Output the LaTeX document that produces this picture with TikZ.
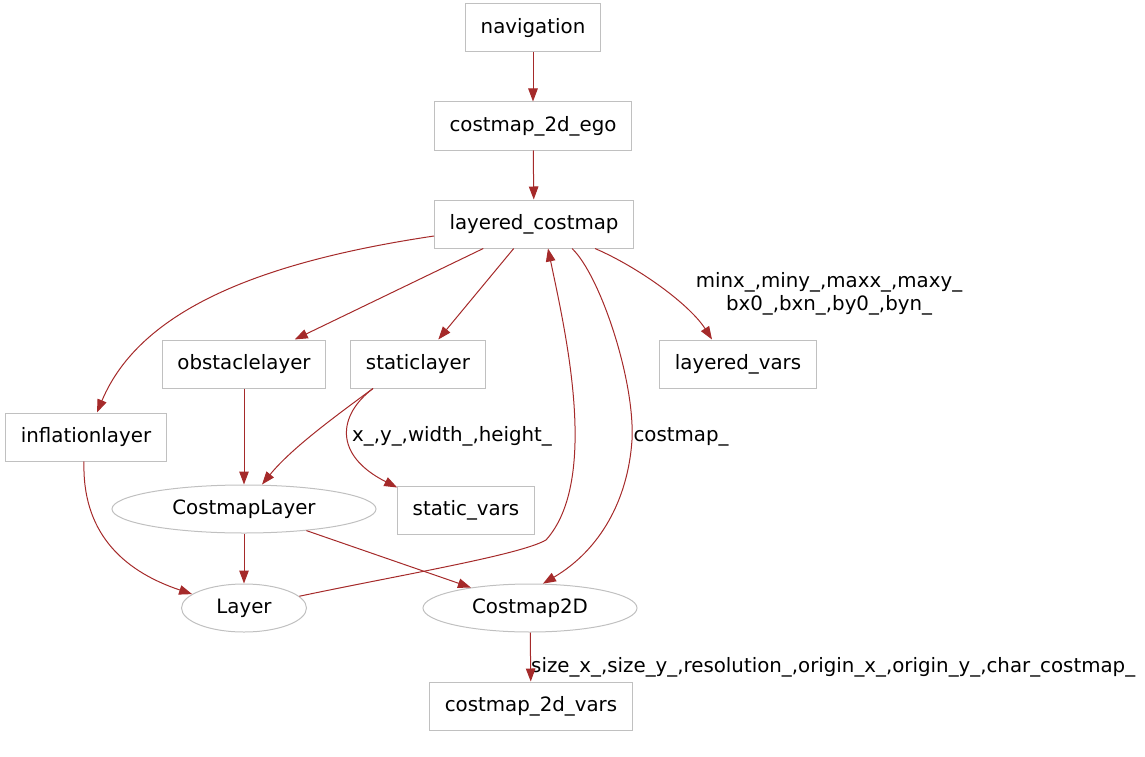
\documentclass[tikz,border=0pt]{standalone}
\usepackage{fontspec}
\setmainfont{DejaVu Sans}
\usetikzlibrary{arrows.meta,shapes.geometric}

\definecolor{linkred}{HTML}{A52A2A}
\definecolor{boxgray}{HTML}{C0C0C0}

\begin{document}
\begin{tikzpicture}[
    x=1pt, y=-1pt,
    >={Triangle[length=13pt,width=9.5pt]},
    font=\fontsize{19.8}{23.5}\selectfont,
    box/.style={rectangle,draw=boxgray,line width=1pt,minimum height=48pt,inner xsep=15pt,inner ysep=0pt},
    blob/.style={ellipse,draw=boxgray,line width=1pt,minimum height=48pt,inner sep=0pt},
    lbl/.style={inner sep=0pt,align=center},
    link/.style={draw=linkred,->,line width=1pt}
]
\useasboundingbox (0,0) rectangle (1145,757);

\node[box] (nav) at (533,28) {navigation};
\node[box] (ego) at (533,126) {costmap\_2d\_ego};
\node[box] (lc)  at (534,224) {layered\_costmap};
\node[box] (obs) at (244,364) {obstaclelayer};
\node[box] (stl) at (418,364) {staticlayer};
\node[box] (lv)  at (738,364) {layered\_vars};
\node[box] (inf) at (86,437) {inflationlayer};
\node[blob, minimum width=264pt] (cl) at (244,509) {CostmapLayer};
\node[box] (sv)  at (466,510) {static\_vars};
\node[blob, minimum width=125pt] (ly) at (244,608) {Layer};
\node[blob, minimum width=214pt] (cm) at (530,608) {Costmap2D};
\node[box] (cv)  at (531,706) {costmap\_2d\_vars};

% edge labels
\node[lbl] (lvlbl) at (829,294) {minx\_,miny\_,maxx\_,maxy\_\\bx0\_,bxn\_,by0\_,byn\_};
\node[lbl] (cmlbl) at (681,437) {costmap\_};
\node[lbl] (svlbl) at (452,436) {x\_,y\_,width\_,height\_};
\node[lbl, anchor=west] (cvlbl) at (531,667) {size\_x\_,size\_y\_,resolution\_,origin\_x\_,origin\_y\_,char\_costmap\_};

\draw[link] ([yshift=-12pt]lc.west) .. controls (260,262) and (140,310) .. ([xshift=11pt]inf.north);
\draw[link] (nav) -- (ego);
\draw[link] (ego) -- (lc);
\draw[link] (lc) -- (obs);
\draw[link] (lc) -- (stl);
\draw[link] ([xshift=61pt]lc.south) .. controls (640,268) and (690,305) .. ([xshift=-26pt]lv.north);
\draw[link] ([xshift=38pt]lc.south) .. controls (600,275) and (635,380) .. (632,440)
    .. controls (628,500) and (600,550) .. (cm.62);
\draw[link] (ly.12) .. controls (400,575) and (520,555) .. (546,540)
    .. controls (600,480) and (565,330) .. ([xshift=14pt]lc.south);
\draw[link] (obs) -- (cl);
\draw[link] ([xshift=-45pt]stl.south) .. controls (330,420) and (290,450) .. ([xshift=18pt]cl.north);
\draw[link] ([xshift=-45pt]stl.south) .. controls (338,415) and (333,455) .. ([yshift=-2pt]sv.north west);
\draw[link] ([xshift=-2pt]inf.south) .. controls (82,530) and (120,570) .. (ly.165);
\draw[link] (cl) -- (ly);
\draw[link] (cl) -- (cm);
\draw[link] (cm) -- (cv);
\end{tikzpicture}
\end{document}
